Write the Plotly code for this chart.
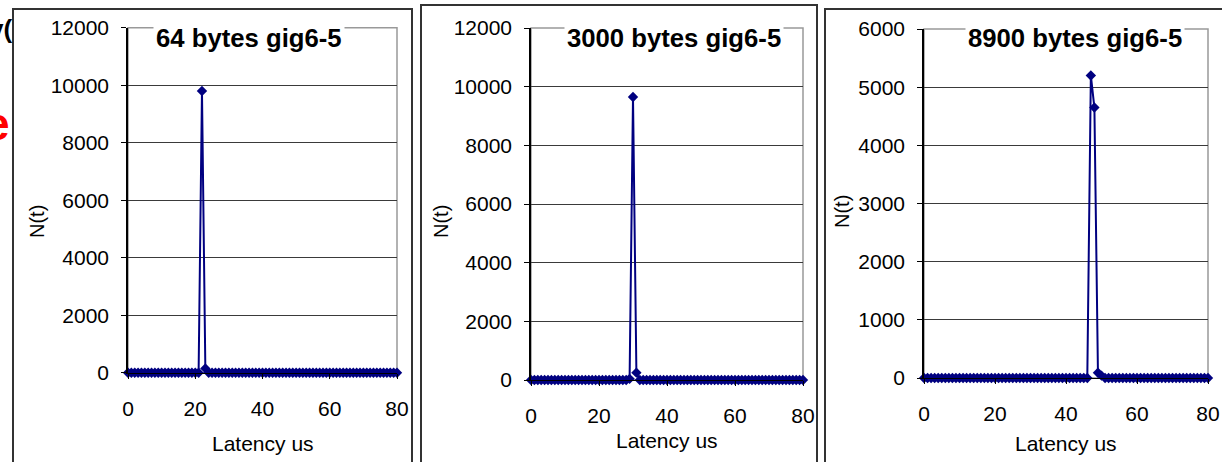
import plotly.graph_objects as go

W, H = 1222, 462

latency_us = list(range(0, 81))

n_64 = [0, 0, 0, 0, 0, 0, 0, 0, 0, 0,
        0, 0, 0, 0, 0, 0, 0, 0, 0, 0,
        0, 0, 9800, 150, 0, 0, 0, 0, 0, 0,
        0, 0, 0, 0, 0, 0, 0, 0, 0, 0,
        0, 0, 0, 0, 0, 0, 0, 0, 0, 0,
        0, 0, 0, 0, 0, 0, 0, 0, 0, 0,
        0, 0, 0, 0, 0, 0, 0, 0, 0, 0,
        0, 0, 0, 0, 0, 0, 0, 0, 0, 0,
        0]
n_3000 = [0, 0, 0, 0, 0, 0, 0, 0, 0, 0,
          0, 0, 0, 0, 0, 0, 0, 0, 0, 0,
          0, 0, 0, 0, 0, 0, 0, 0, 0, 40,
          9650, 250, 0, 0, 0, 0, 0, 0, 0, 0,
          0, 0, 0, 0, 0, 0, 0, 0, 0, 0,
          0, 0, 0, 0, 0, 0, 0, 0, 0, 0,
          0, 0, 0, 0, 0, 0, 0, 0, 0, 0,
          0, 0, 0, 0, 0, 0, 0, 0, 0, 0,
          0]
n_8900 = [0, 0, 0, 0, 0, 0, 0, 0, 0, 0,
          0, 0, 0, 0, 0, 0, 0, 0, 0, 0,
          0, 0, 0, 0, 0, 0, 0, 0, 0, 0,
          0, 0, 0, 0, 0, 0, 0, 0, 0, 0,
          0, 0, 0, 0, 0, 0, 0, 5200, 4650, 90,
          40, 0, 0, 0, 0, 0, 0, 0, 0, 0,
          0, 0, 0, 0, 0, 0, 0, 0, 0, 0,
          0, 0, 0, 0, 0, 0, 0, 0, 0, 0,
          0]

titles = ["64 bytes gig6-5", "3000 bytes gig6-5", "8900 bytes gig6-5"]
series = [n_64, n_3000, n_8900]
y_max = [12000, 12000, 6000]
y_step = [2000, 2000, 1000]
x_ticks = [0, 20, 40, 60, 80]

# layout in pixels
plot_x = [(128, 397), (531, 803), (924, 1208)]
plot_y = [(27.7, 372.7), (28, 380), (29, 378)]
boxes = [(13, 9, 412), (421, 5, 817), (825, 9, 1240)]
title_x = [249, 674, 1075]
ytitle_x = [37, 441, 842]
ytitle_y = [222, 222, 212]
xtitle_y = [443, 440, 443]

FONT = "Liberation Sans, Arial, sans-serif"
NAVY = "#000080"

def px(x):
    return x / W

def py(y):
    return 1 - y / H

fig = go.Figure()
shapes = []
annotations = []

# background slide text peeking out on the left
annotations.append(dict(text="<b>v(</b>", x=px(14), y=py(29), xref="paper", yref="paper",
                        xanchor="right", yanchor="middle", showarrow=False,
                        font=dict(family=FONT, size=26, color="black")))
annotations.append(dict(text="<b>e</b>", x=px(12), y=py(124), xref="paper", yref="paper",
                        xanchor="right", yanchor="middle", showarrow=False,
                        font=dict(family=FONT, size=46, color="red")))

for i in range(3):
    xa = "xaxis" if i == 0 else f"xaxis{i+1}"
    ya = "yaxis" if i == 0 else f"yaxis{i+1}"
    xr = "x" if i == 0 else f"x{i+1}"
    yr = "y" if i == 0 else f"y{i+1}"
    x0, x1 = plot_x[i]
    ytop, ybot = plot_y[i]

    # chart box
    bx0, by0, bx1 = boxes[i]
    shapes.append(dict(type="rect", xref="paper", yref="paper", x0=px(bx0), x1=px(bx1),
                       y0=py(480), y1=py(by0), line=dict(color="#333333", width=2),
                       fillcolor="white", layer="below"))
    # plot area border
    shapes.append(dict(type="rect", xref="paper", yref="paper", x0=px(x0), x1=px(x1),
                       y0=py(ybot), y1=py(ytop), line=dict(color="#999999", width=1.5),
                       layer="below"))

    fig.add_trace(go.Scatter(x=latency_us, y=series[i], mode="lines+markers",
                             line=dict(color=NAVY, width=2),
                             marker=dict(symbol="diamond", size=8, color=NAVY),
                             xaxis=xr, yaxis=yr, showlegend=False, cliponaxis=False))

    fig.layout[xa] = dict(domain=[px(x0), px(x1)], range=[0, 80], tickvals=x_ticks,
                          showgrid=False, zeroline=False, showline=True,
                          linecolor="black", linewidth=1, ticks="outside", ticklen=5,
                          tickcolor="black", anchor=yr, fixedrange=True,
                          automargin=False, ticklabelstandoff=12,
                          tickfont=dict(family=FONT, size=21, color="black"))
    fig.layout[ya] = dict(domain=[py(ybot), py(ytop)], range=[0, y_max[i]],
                          dtick=y_step[i], tick0=0, tickformat="d", showgrid=True,
                          gridcolor="#3a3a3a", gridwidth=1, zeroline=False,
                          showline=True, linecolor="black", linewidth=1.5,
                          ticks="outside", ticklen=5, tickcolor="black", anchor=xr,
                          fixedrange=True, automargin=False, ticklabelstandoff=8,
                          tickfont=dict(family=FONT, size=21, color="black"))

    # title with white background covering the plot border
    annotations.append(dict(text="<b>" + titles[i] + "</b>", x=px(title_x[i]), y=py(38),
                            xref="paper", yref="paper", xanchor="center", yanchor="middle",
                            showarrow=False, bgcolor="white", borderpad=2,
                            font=dict(family=FONT, size=25.7, color="black")))
    # y title
    annotations.append(dict(text="N(t)", x=px(ytitle_x[i]), y=py(ytitle_y[i]),
                            xref="paper", yref="paper", xanchor="center", yanchor="middle",
                            textangle=-90, showarrow=False,
                            font=dict(family=FONT, size=20, color="black")))
    # x title
    annotations.append(dict(text="Latency us", x=px((x0 + x1) / 2), y=py(xtitle_y[i]),
                            xref="paper", yref="paper", xanchor="center", yanchor="middle",
                            showarrow=False,
                            font=dict(family=FONT, size=21, color="black")))

fig.update_layout(width=W, height=H, margin=dict(l=0, r=0, t=0, b=0),
                  paper_bgcolor="white", plot_bgcolor="rgba(0,0,0,0)",
                  shapes=shapes, annotations=annotations)

fig.write_html("out.html", config={"displayModeBar": False},
               post_script="document.body.style.margin='0';document.body.style.overflow='hidden';")
